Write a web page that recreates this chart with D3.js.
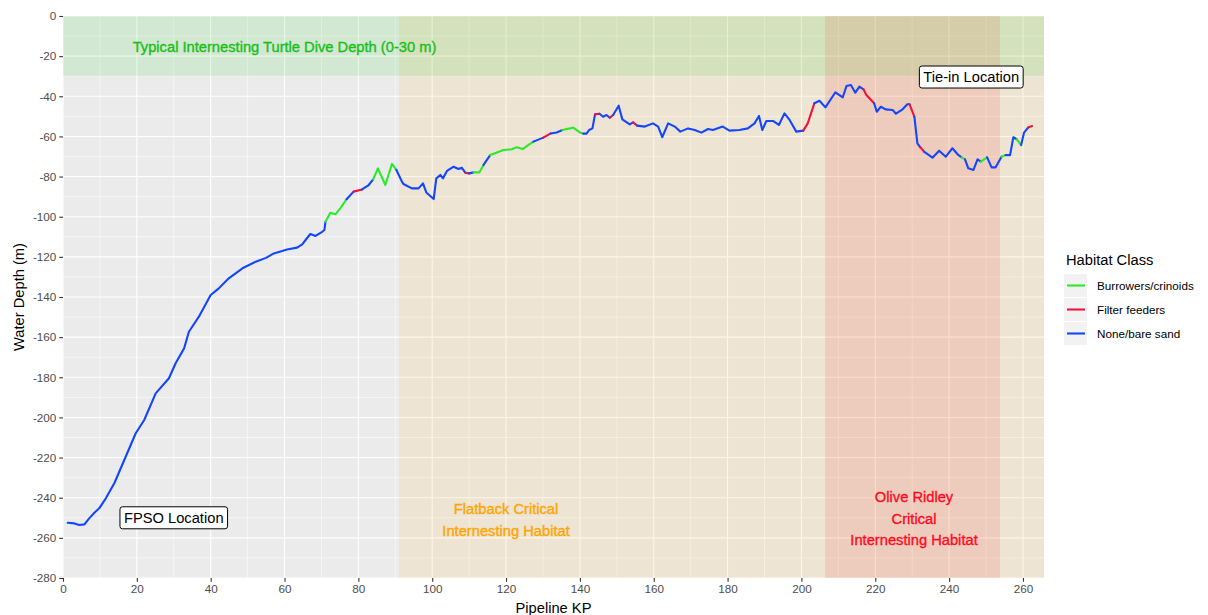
<!DOCTYPE html>
<html>
<head>
<meta charset="utf-8">
<script src="https://cdn.jsdelivr.net/npm/d3@7"></script>
<style>
body { margin: 0; background: #fff; }
text { font-family: "Liberation Sans", Arial, sans-serif; }
</style>
</head>
<body>
<svg id="chart" width="1208" height="615"></svg>
<script>
// pipeline profile
var kp = [
    1.3, 3.1, 4.4, 5.8, 7.1, 8.5, 9.8, 11.6, 13.9, 16.6,
    19.7, 22.0, 25.1, 28.7, 30.5, 32.8, 34.1, 36.8, 40.0, 42.2,
    44.9, 48.6, 52.2, 55.0, 57.1, 60.7, 63.4, 64.8, 65.7, 67.0,
    68.4, 70.2, 70.8, 71.1, 72.4, 73.8, 75.1, 76.8, 78.7, 81.0,
    82.8, 84.0, 85.3, 87.3, 89.1, 90.3, 91.8, 92.2, 94.5, 96.3,
    97.5, 98.4, 100.4, 101.1, 102.2, 102.9, 104.0, 105.8, 107.1, 108.0,
    109.0, 110.0, 111.2, 112.8, 113.9, 115.7, 117.0, 119.3, 121.5, 122.9,
    124.5, 126.0, 127.4, 130.1, 132.1, 133.7, 135.3, 137.3, 138.2, 140.0,
    140.9, 141.8, 142.5, 143.4, 144.1, 145.3, 146.3, 147.2, 148.1, 149.0,
    150.5, 151.5, 153.5, 154.4, 155.5, 157.6, 159.8, 161.2, 162.3, 163.9,
    165.7, 167.2, 169.3, 171.1, 172.9, 174.7, 176.0, 178.7, 180.5, 183.2,
    185.5, 187.3, 188.5, 189.4, 190.5, 192.3, 193.9, 195.4, 196.8, 198.6,
    200.5, 201.7, 203.5, 204.9, 206.5, 209.2, 211.2, 212.2, 213.4, 214.6,
    215.7, 216.8, 217.6, 219.7, 220.4, 221.5, 222.8, 224.7, 225.6, 227.4,
    228.7, 229.3, 230.6, 231.4, 232.2, 233.2, 235.5, 237.3, 239.1, 240.9,
    242.3, 243.4, 244.3, 245.2, 246.6, 247.7, 248.6, 250.3, 251.5, 252.6,
    254.2, 255.3, 256.5, 257.4, 258.3, 259.5, 260.3, 261.4, 262.5
];

var depth = [
    -252.5, -252.8, -253.6, -253.3, -250.3, -247.5, -245.3, -240.3, -232.8, -221.2,
    -207.9, -201.3, -188.0, -180.5, -173.0, -165.6, -157.3, -149.8, -139.0, -135.7,
    -130.7, -125.7, -122.4, -120.5, -118.3, -116.3, -115.4, -113.8, -111.6, -108.6,
    -109.6, -107.5, -106.6, -102.5, -98.0, -98.8, -95.8, -91.3, -87.5, -86.4,
    -84.2, -81.4, -75.9, -84.2, -73.7, -76.7, -82.5, -83.7, -85.9, -85.9,
    -83.4, -87.9, -91.2, -80.9, -79.2, -80.9, -77.2, -75.1, -76.2, -75.6,
    -78.1, -78.4, -77.9, -77.9, -74.2, -69.3, -68.4, -66.8, -66.4, -65.4,
    -66.3, -64.3, -62.6, -60.6, -58.5, -58.0, -56.8, -56.0, -55.6, -58.0,
    -58.6, -58.6, -56.8, -56.0, -49.0, -48.7, -50.2, -49.3, -50.7, -49.3,
    -44.7, -51.5, -54.0, -53.0, -54.6, -55.1, -53.5, -55.1, -60.4, -53.5,
    -55.1, -57.6, -56.0, -56.8, -58.1, -56.3, -56.8, -55.1, -57.1, -56.8,
    -56.0, -53.5, -49.8, -56.8, -52.3, -52.3, -54.3, -48.5, -51.8, -57.6,
    -57.1, -53.5, -43.5, -42.2, -45.5, -38.0, -40.5, -34.9, -34.4, -38.2,
    -35.2, -36.5, -39.4, -43.5, -47.7, -45.2, -46.5, -46.8, -48.7, -46.5,
    -44.0, -44.0, -50.2, -63.4, -65.4, -67.6, -70.6, -67.1, -70.1, -65.9,
    -68.9, -70.4, -71.4, -75.9, -76.7, -71.4, -72.5, -70.4, -75.4, -75.4,
    -70.1, -69.3, -69.3, -60.4, -61.4, -64.3, -58.1, -55.6, -54.8
];

// habitat of the stretch starting at each point (B none, G burrowers, R filter feeders)
var habitat = [
    'B','B','B','B','B','B','B','B','B','B',
    'B','B','B','B','B','B','B','B','B','B',
    'B','B','B','B','B','B','B','B','B','B',
    'B','B','B','G','G','G','G','B','R','B',
    'B','G','G','G','G','B','B','B','B','B',
    'B','B','B','B','B','B','B','B','B','B',
    'R','B','G','G','B','G','G','G','G','G',
    'G','G','B','R','B','B','G','G','G','G',
    'B','B','B','B','R','B','B','B','R','B',
    'B','B','B','R','B','B','B','B','B','B',
    'B','B','B','B','B','B','B','B','B','B',
    'B','B','B','B','B','B','B','B','B','B',
    'R','R','B','B','B','B','B','B','B','B',
    'B','R','R','B','B','B','B','B','B','B',
    'B','R','B','B','R','B','B','B','B','B',
    'B','G','B','B','B','B','G','B','B','B',
    'G','B','B','B','G','B','B','R','R'
];

var classCodes = ['G', 'R', 'B'];
var classNames = ['Burrowers/crinoids', 'Filter feeders', 'None/bare sand'];
var classColors = ['#2bea2b', '#f0143c', '#1446fa'];

var xTicks = d3.range(0, 261, 20);
var yTicks = d3.range(-280, 1, 20);

// shaded zones: [kp from, kp to, depth from, depth to]
var flatbackZone = [91, Infinity, -280, 0];
var ridleyZone = [206.4, 253.8, -280, 0];
var diveZone = [0, Infinity, -30, 0];

var noteText = ['Typical Internesting Turtle Dive Depth (0-30 m)',
    'Flatback Critical\nInternesting Habitat',
    'Olive Ridley\nCritical\nInternesting Habitat'];
var noteKp = [60, 120, 230.5];
var noteDepth = [-15.5, -251, -250.5];
var noteColors = ['#16c016', '#ffa500', '#ff0a1e'];

var labelText = ['FPSO Location', 'Tie-in Location'];
var labelKp = [30, 246];
var labelDepth = [-250, -30.4];

var margin = {top: 16, right: 164, bottom: 37, left: 63};
var width = 1208, height = 615;

var svg = d3.select('svg#chart');

var x = d3.scaleLinear().domain([0, 265.7]).range([margin.left, width - margin.right]);
var y = d3.scaleLinear().domain([-280, 0]).range([height - margin.bottom, margin.top]);

var x0 = x.range()[0], x1 = x.range()[1];
var y0 = y.range()[1], y1 = y.range()[0];

// panel
svg.append('rect')
    .attr('x', x0).attr('y', y0)
    .attr('width', x1 - x0).attr('height', y1 - y0)
    .attr('fill', '#ebebeb');

var grid = svg.append('g');
var xMinor = d3.range(10, 265, 20), yMinor = d3.range(-270, 0, 20);

grid.selectAll('line.xminor').data(xMinor).enter().append('line')
    .attr('x1', d => x(d)).attr('x2', d => x(d)).attr('y1', y0).attr('y2', y1)
    .attr('stroke', '#fff').attr('stroke-width', 0.55);
grid.selectAll('line.yminor').data(yMinor).enter().append('line')
    .attr('x1', x0).attr('x2', x1).attr('y1', d => y(d)).attr('y2', d => y(d))
    .attr('stroke', '#fff').attr('stroke-width', 0.55);
grid.selectAll('line.xmajor').data(xTicks).enter().append('line')
    .attr('x1', d => x(d)).attr('x2', d => x(d)).attr('y1', y0).attr('y2', y1)
    .attr('stroke', '#fff').attr('stroke-width', 1.1);
grid.selectAll('line.ymajor').data(yTicks).enter().append('line')
    .attr('x1', x0).attr('x2', x1).attr('y1', d => y(d)).attr('y2', d => y(d))
    .attr('stroke', '#fff').attr('stroke-width', 1.1);

function zone(z, fill, alpha) {
    var xa = Math.max(x(z[0]), x0), xb = Math.min(isFinite(z[1]) ? x(z[1]) : x1, x1);
    svg.append('rect')
        .attr('x', xa).attr('y', y(z[3]))
        .attr('width', xb - xa).attr('height', y(z[2]) - y(z[3]))
        .attr('fill', fill).attr('fill-opacity', alpha);
}

zone(flatbackZone, '#ffa500', 0.1);
zone(ridleyZone, '#ff0000', 0.1);
zone(diveZone, '#00cd00', 0.1);

// zone captions
noteText.forEach(function(t, i) {
    var lines = t.split('\n');
    var lh = 21.5;
    var top = y(noteDepth[i]) - (lines.length - 1) * lh / 2;
    var txt = svg.append('text')
        .attr('text-anchor', 'middle')
        .attr('font-size', '14.7px')
        .attr('fill', noteColors[i])
        .attr('stroke', noteColors[i])
        .attr('stroke-width', 0.35);
    lines.forEach(function(l, j) {
        txt.append('tspan')
            .attr('x', x(noteKp[i]))
            .attr('y', top + j * lh + 5)
            .text(l);
    });
});

// profile, split into runs of one habitat
var runs = [];
for (var i = 0; i < kp.length - 1; i++) {
    var last = runs[runs.length - 1];
    if (last && last.code === habitat[i]) {
        last.points.push([kp[i + 1], depth[i + 1]]);
    } else {
        runs.push({code: habitat[i], points: [[kp[i], depth[i]], [kp[i + 1], depth[i + 1]]]});
    }
}

var valueline = d3.line()
    .x(d => x(d[0]))
    .y(d => y(d[1]));

svg.append('g').selectAll('path')
    .data(runs)
    .enter().append('path')
    .attr('d', d => valueline(d.points))
    .attr('fill', 'none')
    .attr('stroke', d => classColors[classCodes.indexOf(d.code)])
    .attr('stroke-width', 2.1)
    .attr('stroke-linejoin', 'round')
    .attr('stroke-linecap', 'round');

// boxed labels
labelText.forEach(function(t, i) {
    var g = svg.append('g');
    var txt = g.append('text')
        .attr('x', x(labelKp[i]))
        .attr('y', y(labelDepth[i]) + 5)
        .attr('text-anchor', 'middle')
        .attr('font-size', '14.7px')
        .attr('fill', '#000')
        .text(t);
    var bb = txt.node().getBBox();
    g.insert('rect', 'text')
        .attr('x', bb.x - 4).attr('y', y(labelDepth[i]) - 11)
        .attr('width', bb.width + 8).attr('height', 22)
        .attr('rx', 2.5)
        .attr('fill', '#fff')
        .attr('stroke', '#000')
        .attr('stroke-width', 1);
});

// axes
var xAxis = d3.axisBottom(x).tickValues(xTicks).tickFormat(d => String(d)).tickSize(3.7).tickPadding(3);
var yAxis = d3.axisLeft(y).tickValues(yTicks).tickFormat(d => String(d)).tickSize(3.7).tickPadding(3);

var gX = svg.append('g').attr('transform', 'translate(0,' + y1 + ')').call(xAxis);
var gY = svg.append('g').attr('transform', 'translate(' + x0 + ',0)').call(yAxis);

[gX, gY].forEach(function(g) {
    g.select('.domain').remove();
    g.selectAll('.tick line').attr('stroke', '#333').attr('stroke-width', 1.1);
    g.selectAll('.tick text')
        .attr('fill', '#4d4d4d')
        .attr('font-size', '11.7px')
        .attr('font-family', '"Liberation Sans", Arial, sans-serif');
});

svg.append('text')
    .attr('x', (x0 + x1) / 2).attr('y', 613)
    .attr('text-anchor', 'middle')
    .attr('font-size', '14.7px')
    .text('Pipeline KP');

svg.append('text')
    .attr('transform', 'translate(24,' + ((y0 + y1) / 2) + ') rotate(-90)')
    .attr('text-anchor', 'middle')
    .attr('font-size', '14.7px')
    .text('Water Depth (m)');

// legend
var legend = svg.append('g').attr('transform', 'translate(1064,0)');

legend.append('text')
    .attr('x', 2).attr('y', 265)
    .attr('font-size', '14.7px')
    .text('Habitat Class');

var item = legend.selectAll('g.item')
    .data(classNames)
    .enter().append('g')
    .attr('transform', (d, i) => 'translate(0,' + (274 + i * 24) + ')');

item.append('rect')
    .attr('width', 23).attr('height', 23)
    .attr('fill', '#f2f2f2');

item.append('line')
    .attr('x1', 3).attr('x2', 21).attr('y1', 11.5).attr('y2', 11.5)
    .attr('stroke', (d, i) => classColors[i])
    .attr('stroke-width', 2.1);

item.append('text')
    .attr('x', 33).attr('y', 15.5)
    .attr('font-size', '11.7px')
    .text(d => d);
</script>
</body>
</html>
